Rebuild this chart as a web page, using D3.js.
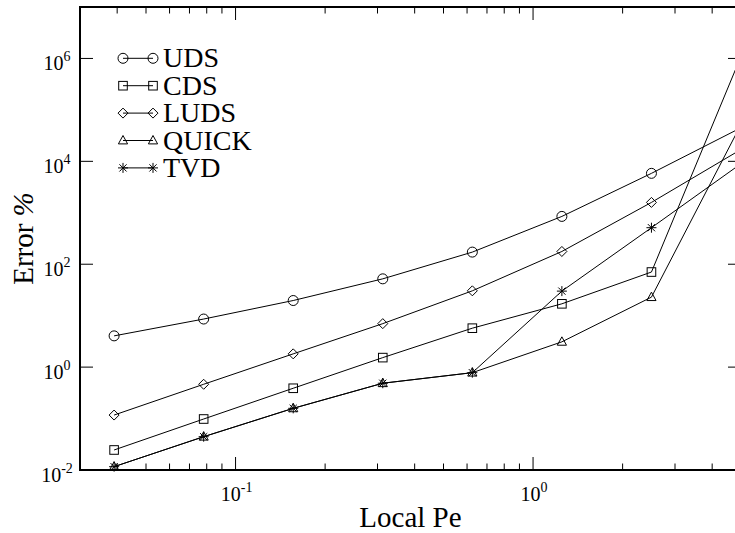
<!DOCTYPE html>
<html>
<head>
<meta charset="utf-8">
<script src="https://cdn.jsdelivr.net/npm/d3@7"></script>
<style>
  html, body { margin: 0; padding: 0; background: #fff; }
  svg { display: block; font-family: "Liberation Serif", "Times New Roman", serif; }
</style>
</head>
<body>
<svg id="chart" width="735" height="533"></svg>
<script>
// Local Peclet number of each grid
const localPe = [0.0390625, 0.078125, 0.15625, 0.3125, 0.625, 1.25, 2.5, 5];

// Error (%) of each convection scheme
const errUDS   = [4.05, 8.6, 19.7, 52, 172, 850, 5840, 45000];
const errCDS   = [0.0245, 0.098, 0.388, 1.53, 5.71, 17, 70.5, 1.1e6];
const errLUDS  = [0.117, 0.464, 1.81, 7.0, 30.4, 177, 1590, 17000];
const errQUICK = [0.0116, 0.0444, 0.158, 0.486, 0.78, 3.1, 22.9, 52000];
const errTVD   = [0.0116, 0.0444, 0.158, 0.486, 0.78, 30, 513, 9000];

const seriesNames = ["UDS", "CDS", "LUDS", "QUICK", "TVD"];
const seriesValues = [errUDS, errCDS, errLUDS, errQUICK, errTVD];
const seriesSymbols = ["circle", "square", "diamond", "triangle", "star"];

// Axis ticks
const yMajorTicks = [1e-2, 1e0, 1e2, 1e4, 1e6];
const yTickExponents = ["-2", "0", "2", "4", "6"];
const xMajorTicks = [0.1, 1];
const xTickExponents = ["-1", "0"];
const xMinorTicks = [0.04, 0.05, 0.06, 0.07, 0.08, 0.09,
                     0.2, 0.3, 0.4, 0.5, 0.6, 0.7, 0.8, 0.9,
                     2, 3, 4, 5];

const svg = d3.select("#chart");
const plotLeft = 80, plotRight = 741, plotTop = 7, plotBottom = 470;

const x = d3.scaleLog().domain([0.03, 5]).range([plotLeft, plotRight]);
const y = d3.scaleLog().domain([1e-2, 1e7]).range([plotBottom, plotTop]);

// Marker shapes
function marker(g, type, cx, cy) {
  const s = g.append("g").attr("transform", `translate(${cx},${cy})`)
    .attr("fill", "none").attr("stroke", "#000").attr("stroke-width", 1);
  if (type === "circle") {
    s.append("circle").attr("r", 5);
  } else if (type === "square") {
    s.append("rect").attr("x", -4.3).attr("y", -4.3).attr("width", 8.6).attr("height", 8.6);
  } else if (type === "diamond") {
    s.append("path").attr("d", "M0,-5L5,0L0,5L-5,0Z");
  } else if (type === "triangle") {
    s.append("path").attr("d", "M0,-5L4.6,3.4L-4.6,3.4Z");
  } else if (type === "star") {
    s.append("path").attr("d", "M-5,0H5M0,-5V5M-3.6,-3.6L3.6,3.6M-3.6,3.6L3.6,-3.6");
  }
}

// Series lines and markers
const line = d3.line().x(d => x(d[0])).y(d => y(d[1]));
seriesValues.forEach((vals, i) => {
  const pts = localPe.map((p, j) => [p, vals[j]]);
  const g = svg.append("g");
  g.append("path").attr("d", line(pts))
    .attr("fill", "none").attr("stroke", "#000").attr("stroke-width", 1);
  pts.forEach(p => marker(g, seriesSymbols[i], x(p[0]), y(p[1])));
});

// Frame
svg.append("rect").attr("x", plotLeft).attr("y", plotTop)
  .attr("width", plotRight - plotLeft).attr("height", plotBottom - plotTop)
  .attr("fill", "none").attr("stroke", "#000").attr("stroke-width", 2);

// Ticks on all four sides (pointing inwards)
const tickG = svg.append("g").attr("stroke", "#000").attr("stroke-width", 1);
xMajorTicks.forEach(t => {
  tickG.append("line").attr("x1", x(t)).attr("x2", x(t)).attr("y1", plotBottom).attr("y2", plotBottom - 13);
  tickG.append("line").attr("x1", x(t)).attr("x2", x(t)).attr("y1", plotTop).attr("y2", plotTop + 13);
});
xMinorTicks.forEach(t => {
  tickG.append("line").attr("x1", x(t)).attr("x2", x(t)).attr("y1", plotBottom).attr("y2", plotBottom - 6.5);
  tickG.append("line").attr("x1", x(t)).attr("x2", x(t)).attr("y1", plotTop).attr("y2", plotTop + 6.5);
});
yMajorTicks.forEach(t => {
  tickG.append("line").attr("x1", plotLeft).attr("x2", plotLeft + 13).attr("y1", y(t)).attr("y2", y(t));
  tickG.append("line").attr("x1", plotRight).attr("x2", plotRight - 13).attr("y1", y(t)).attr("y2", y(t));
});

// Tick labels: 10 with superscript exponent
function powerLabel(px, py, exp) {
  const t = svg.append("text").attr("x", px).attr("y", py)
    .attr("text-anchor", "middle").attr("font-size", 20).attr("fill", "#000");
  t.append("tspan").text("10");
  t.append("tspan").attr("font-size", 14).attr("dy", -9).text(exp);
}
yMajorTicks.forEach((t, i) => powerLabel(57, y(t) + 12, yTickExponents[i]));
xMajorTicks.forEach((t, i) => powerLabel(x(t) + 1, plotBottom + 31, xTickExponents[i]));

// Axis titles
svg.append("text").attr("x", (plotLeft + plotRight) / 2).attr("y", 527)
  .attr("text-anchor", "middle").attr("font-size", 29).text("Local Pe");
const yt = svg.append("text")
  .attr("transform", `translate(33,${(plotTop + plotBottom) / 2}) rotate(-90)`)
  .attr("text-anchor", "middle").attr("font-size", 29);
yt.append("tspan").text("Error ");
yt.append("tspan").attr("font-style", "italic").text("%");

// Legend
const legend = svg.append("g");
seriesNames.forEach((name, i) => {
  const cy = 58.3 + i * 27.4;
  legend.append("line").attr("x1", 123).attr("x2", 153).attr("y1", cy).attr("y2", cy)
    .attr("stroke", "#000").attr("stroke-width", 1);
  marker(legend, seriesSymbols[i], 123, cy);
  marker(legend, seriesSymbols[i], 153, cy);
  legend.append("text").attr("x", 163).attr("y", cy + 9)
    .attr("font-size", 28).text(name);
});
</script>
</body>
</html>
